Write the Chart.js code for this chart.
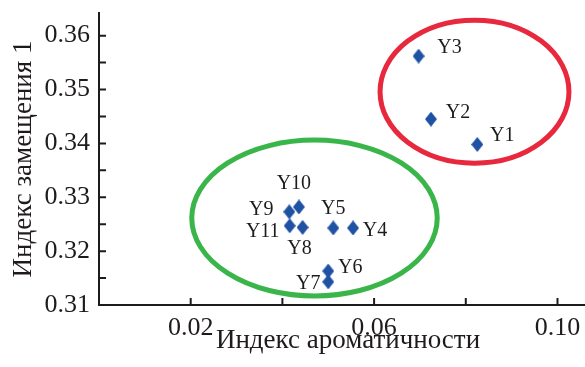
<!DOCTYPE html>
<html>
<head>
<meta charset="utf-8">
<script src="https://cdn.jsdelivr.net/npm/chart.js@4"></script>
<style>
  html, body { margin: 0; padding: 0; background: #fff; }
  #wrap { width: 585px; height: 367px; }
</style>
</head>
<body>
<div id="wrap"><canvas id="chart"></canvas></div>
<script>
// Samples and their two indices
const sampleNames = ['Y1', 'Y2', 'Y3', 'Y4', 'Y5', 'Y6', 'Y7', 'Y8', 'Y9', 'Y10', 'Y11'];
const aromaticityIndex = [0.0825, 0.0724, 0.0697, 0.0554, 0.0511, 0.0500, 0.0500, 0.0444, 0.0415, 0.0436, 0.0416];
const substitutionIndex = [0.3398, 0.3445, 0.3562, 0.3243, 0.3243, 0.3163, 0.3143, 0.3244, 0.3273, 0.3282, 0.3247];

// Axis ticks
const xTickValues = [0, 0.02, 0.04, 0.06, 0.08, 0.10];
const xTickLabels = ['0.02', '0.06', '0.10'];
const yTickValues = [0.31, 0.315, 0.32, 0.325, 0.33, 0.335, 0.34, 0.345, 0.35, 0.355, 0.36];
const yTickLabels = ['0.31', '0.32', '0.33', '0.34', '0.35', '0.36'];

// Axis titles
const xTitle = 'Индекс ароматичности';
const yTitle = 'Индекс замещения 1';

// Group outlines (centre and semi-axes in data units)
const groupOutlines = [
  { cx: 0.0819, cy: 0.3496, rx: 0.0206, ry: 0.01327, color: '#e8283c' },
  { cx: 0.0470, cy: 0.32614, rx: 0.02677, ry: 0.01447, color: '#39b54a' }
];

// Label placement relative to each marker (pixels)
const labelOffsets = {
  Y1: [25, -9], Y2: [27, -6], Y3: [31, -8], Y4: [22, 3], Y5: [0, -19],
  Y6: [22, -3], Y7: [-20, 2], Y8: [-3, 21], Y9: [-28, -2], Y10: [-5, -23], Y11: [-27, 6]
};

const INK = '#1f1b1c';
const FONT = '"Liberation Serif", "Times New Roman", serif';

// Slightly tall diamond marker
function diamond(w, h, color) {
  const c = document.createElement('canvas');
  c.width = w; c.height = h;
  const g = c.getContext('2d');
  g.fillStyle = color;
  g.beginPath();
  g.moveTo(w / 2, 0);
  g.lineTo(w, h / 2);
  g.lineTo(w / 2, h);
  g.lineTo(0, h / 2);
  g.closePath();
  g.fill();
  return c;
}
const marker = diamond(12, 15, '#1f52a3');

const points = sampleNames.map((n, i) => ({ x: aromaticityIndex[i], y: substitutionIndex[i], name: n }));

const outlinePlugin = {
  id: 'outlines',
  beforeDatasetsDraw(chart) {
    const { ctx, scales: { x, y } } = chart;
    ctx.save();
    groupOutlines.forEach(e => {
      const px = x.getPixelForValue(e.cx);
      const py = y.getPixelForValue(e.cy);
      const rx = Math.abs(x.getPixelForValue(e.cx + e.rx) - px);
      const ry = Math.abs(y.getPixelForValue(e.cy + e.ry) - py);
      ctx.beginPath();
      ctx.ellipse(px, py, rx, ry, 0, 0, Math.PI * 2);
      ctx.lineWidth = 5;
      ctx.strokeStyle = e.color;
      ctx.stroke();
    });
    ctx.restore();
  }
};

// Short tick marks pointing into the plot, plus the x-axis title
const axisDecor = {
  id: 'axisDecor',
  afterDraw(chart) {
    const { ctx, scales: { x, y } } = chart;
    ctx.save();
    ctx.strokeStyle = INK;
    ctx.lineWidth = 2;
    ctx.beginPath();
    xTickValues.forEach(v => {
      const px = x.getPixelForValue(v);
      ctx.moveTo(px, x.top);
      ctx.lineTo(px, x.top - 7);
    });
    yTickValues.forEach(v => {
      const py = y.getPixelForValue(v);
      ctx.moveTo(y.right, py);
      ctx.lineTo(y.right + 7, py);
    });
    ctx.stroke();

    ctx.font = '27px ' + FONT;
    ctx.fillStyle = INK;
    ctx.textAlign = 'center';
    ctx.textBaseline = 'alphabetic';
    ctx.fillText(xTitle, 348, 348);
    ctx.restore();
  }
};

const pointLabels = {
  id: 'pointLabels',
  afterDatasetsDraw(chart) {
    const { ctx } = chart;
    const meta = chart.getDatasetMeta(0);
    ctx.save();
    ctx.font = '20px ' + FONT;
    ctx.fillStyle = INK;
    ctx.textAlign = 'center';
    ctx.textBaseline = 'middle';
    meta.data.forEach((el, i) => {
      const name = sampleNames[i];
      const off = labelOffsets[name];
      ctx.fillText(name, el.x + off[0], el.y + off[1]);
    });
    ctx.restore();
  }
};

new Chart(document.getElementById('chart'), {
  type: 'scatter',
  data: {
    datasets: [{
      data: points,
      pointStyle: marker,
      pointRadius: 7,
      pointHoverRadius: 7
    }]
  },
  options: {
    responsive: true,
    maintainAspectRatio: false,
    animation: false,
    layout: { autoPadding: false, padding: { top: 13, right: 0, bottom: 0, left: 0 } },
    plugins: { legend: { display: false }, tooltip: { enabled: false } },
    scales: {
      x: {
        type: 'linear',
        min: 0,
        max: 0.106,
        afterFit(s) { s.height = 62; s.paddingLeft = 0; s.paddingRight = 0; },
        afterBuildTicks(s) { s.ticks = xTickValues.map(v => ({ value: v })); },
        grid: { display: false, drawTicks: false },
        border: { display: true, color: INK, width: 2 },
        ticks: {
          autoSkip: false,
          maxRotation: 0,
          padding: 8,
          color: INK,
          font: { family: FONT, size: 26 },
          callback: v => {
            const t = v.toFixed(2);
            return xTickLabels.includes(t) ? t : '';
          }
        }
      },
      y: {
        type: 'linear',
        min: 0.31,
        max: 0.3642,
        afterFit(s) { s.width = 99; s.paddingTop = 0; s.paddingBottom = 0; },
        afterBuildTicks(s) { s.ticks = yTickValues.map(v => ({ value: v })); },
        grid: { display: false, drawTicks: false },
        border: { display: true, color: INK, width: 2 },
        ticks: {
          autoSkip: false,
          padding: 9,
          color: INK,
          font: { family: FONT, size: 26 },
          callback: v => {
            const t = v.toFixed(2);
            return (yTickLabels.includes(t) && Math.abs(v - parseFloat(t)) < 1e-6) ? t : '';
          }
        },
        title: {
          display: true,
          text: yTitle,
          color: INK,
          font: { family: FONT, size: 27 },
          padding: { top: 8, bottom: 0 }
        }
      }
    }
  },
  plugins: [outlinePlugin, axisDecor, pointLabels]
});
</script>
</body>
</html>
